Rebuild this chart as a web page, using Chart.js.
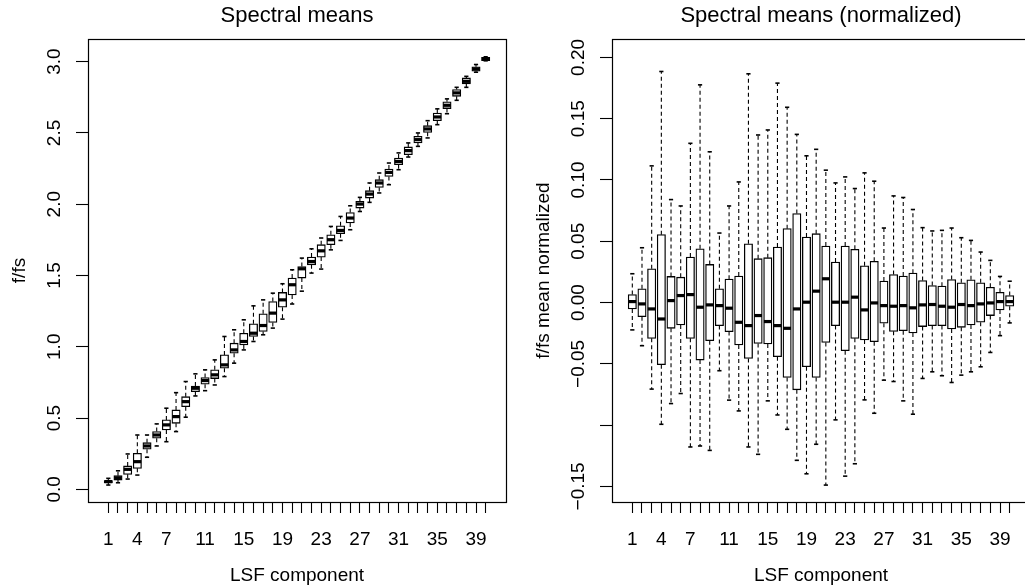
<!DOCTYPE html>
<html>
<head>
<meta charset="utf-8">
<title>Spectral means</title>
<script src="https://cdn.jsdelivr.net/npm/chart.js@4.4.1/dist/chart.umd.min.js"></script>
<style>
  html, body { margin: 0; padding: 0; background: #fff; overflow: hidden; }
  #wrap { position: relative; width: 1025px; height: 588px; overflow: hidden; background: #fff; }
  canvas { position: absolute; top: 0; }
  #means { left: 0; }
  #norm { left: 512px; }
</style>
</head>
<body>
<div id="wrap">
  <canvas id="means" width="594" height="588"></canvas>
  <canvas id="norm" width="618" height="588"></canvas>
</div>
<script>
// LSF component indices and which of them carry a printed label
const components = [1, 2, 3, 4, 5, 6, 7, 8, 9, 10, 11, 12, 13, 14, 15, 16, 17, 18, 19, 20,
                    21, 22, 23, 24, 25, 26, 27, 28, 29, 30, 31, 32, 33, 34, 35, 36, 37, 38, 39, 40];
const labelledComponents = [1, 4, 7, 11, 15, 19, 23, 27, 31, 35, 39];

// Spectral means (f/fs): five-number summaries per component
const meanLo  = [0.030, 0.046, 0.072, 0.100, 0.225, 0.304, 0.334, 0.405, 0.506, 0.655,
                 0.692, 0.732, 0.791, 0.885, 0.978, 1.037, 1.084, 1.131, 1.194, 1.300,
                 1.390, 1.517, 1.545, 1.680, 1.746, 1.821, 1.949, 2.013, 2.079, 2.137,
                 2.242, 2.331, 2.406, 2.465, 2.558, 2.635, 2.729, 2.820, 2.926, 3.006];
const meanQ1  = [0.045, 0.065, 0.105, 0.147, 0.281, 0.358, 0.416, 0.463, 0.580, 0.685,
                 0.737, 0.777, 0.850, 0.955, 1.013, 1.072, 1.107, 1.170, 1.278, 1.364,
                 1.482, 1.575, 1.629, 1.716, 1.793, 1.868, 1.973, 2.043, 2.118, 2.195,
                 2.277, 2.348, 2.430, 2.504, 2.586, 2.671, 2.757, 2.844, 2.933, 3.007];
const meanMed = [0.054, 0.081, 0.140, 0.194, 0.304, 0.381, 0.452, 0.510, 0.615, 0.709,
                 0.763, 0.803, 0.873, 0.978, 1.037, 1.095, 1.149, 1.236, 1.329, 1.435,
                 1.547, 1.598, 1.673, 1.751, 1.816, 1.903, 2.001, 2.071, 2.149, 2.223,
                 2.300, 2.376, 2.453, 2.528, 2.612, 2.694, 2.781, 2.862, 2.949, 3.020];
const meanQ3  = [0.062, 0.096, 0.164, 0.253, 0.327, 0.405, 0.487, 0.557, 0.650, 0.725,
                 0.784, 0.838, 0.943, 1.025, 1.095, 1.161, 1.231, 1.317, 1.381, 1.482,
                 1.563, 1.629, 1.716, 1.786, 1.849, 1.942, 2.020, 2.095, 2.172, 2.247,
                 2.324, 2.402, 2.476, 2.551, 2.640, 2.718, 2.804, 2.886, 2.964, 3.031];
const meanHi  = [0.077, 0.130, 0.248, 0.381, 0.381, 0.459, 0.569, 0.678, 0.756, 0.810,
                 0.838, 0.908, 1.072, 1.119, 1.189, 1.287, 1.329, 1.376, 1.442, 1.540,
                 1.622, 1.687, 1.763, 1.844, 1.914, 1.989, 2.048, 2.149, 2.219, 2.289,
                 2.360, 2.430, 2.500, 2.586, 2.669, 2.739, 2.820, 2.897, 2.980, 3.034];

// Spectral means normalized by their mean
const normLo  = [-0.0223, -0.0352, -0.0706, -0.0993, -0.0824, -0.0742, -0.1178, -0.1170, -0.1206, -0.0556,
                 -0.0796, -0.0884, -0.1178, -0.1238, -0.0802, -0.0917, -0.1034, -0.1287, -0.1397, -0.1156,
                 -0.1489, -0.0957, -0.1416, -0.1315, -0.0794, -0.0903, -0.0633, -0.0644, -0.0802, -0.0911,
                 -0.0619, -0.0565, -0.0597, -0.0652, -0.0592, -0.0565, -0.0524, -0.0407, -0.0270, -0.0166];
const normQ1  = [-0.0052, -0.0115, -0.0292, -0.0507, -0.0210, -0.0183, -0.0292, -0.0469, -0.0311, -0.0188,
                 -0.0237, -0.0346, -0.0456, -0.0333, -0.0338, -0.0442, -0.0611, -0.0712, -0.0524, -0.0611,
                 -0.0325, -0.0188, -0.0393, -0.0292, -0.0305, -0.0319, -0.0169, -0.0235, -0.0229, -0.0248,
                 -0.0196, -0.0188, -0.0188, -0.0215, -0.0202, -0.0183, -0.0161, -0.0106, -0.0060, -0.0030];
const normMed = [0.0008, -0.0011, -0.0052, -0.0134, 0.0016, 0.0057, 0.0065, -0.0038, -0.0019, -0.0025,
                 -0.0046, -0.0161, -0.0188, -0.0106, -0.0155, -0.0188, -0.0210, -0.0052, 0.0003, 0.0093,
                 0.0194, 0.0003, 0.0003, 0.0044, -0.0060, -0.0003, -0.0025, -0.0030, -0.0025, -0.0043,
                 -0.0019, -0.0016, -0.0030, -0.0038, -0.0016, -0.0025, -0.0011, -0.0003, 0.0008, 0.0008];
const normQ3  = [0.0065, 0.0112, 0.0276, 0.0554, 0.0213, 0.0207, 0.0371, 0.0439, 0.0311, 0.0112,
                 0.0191, 0.0216, 0.0480, 0.0358, 0.0366, 0.0453, 0.0603, 0.0726, 0.0534, 0.0562,
                 0.0461, 0.0330, 0.0461, 0.0434, 0.0300, 0.0336, 0.0175, 0.0229, 0.0216, 0.0240,
                 0.0180, 0.0139, 0.0134, 0.0188, 0.0161, 0.0186, 0.0161, 0.0125, 0.0084, 0.0057];
const normHi  = [0.0235, 0.0447, 0.1115, 0.1885, 0.0840, 0.0788, 0.1299, 0.1776, 0.1230, 0.0567,
                 0.0788, 0.0984, 0.1866, 0.1367, 0.1408, 0.1790, 0.1593, 0.1372, 0.1197, 0.1250,
                 0.1080, 0.0976, 0.1025, 0.0930, 0.1058, 0.0990, 0.0608, 0.0870, 0.0857, 0.0759,
                 0.0611, 0.0584, 0.0589, 0.0608, 0.0529, 0.0507, 0.0412, 0.0344, 0.0213, 0.0174];

// Axis ticks and their printed labels
const meanTicks = [0, 0.5, 1.0, 1.5, 2.0, 2.5, 3.0];
const meanTickLabels = ['0.0', '0.5', '1.0', '1.5', '2.0', '2.5', '3.0'];
const normTicks = [-0.15, -0.10, -0.05, 0, 0.05, 0.10, 0.15, 0.20];
const normTickLabels = ['\u22120.15', '', '\u22120.05', '0.00', '0.05', '0.10', '0.15', '0.20'];

// Axis extents (data range padded by 4% on each side)
const xRange = [-1.1, 42.1];
const meanRange = [-0.089, 3.159];
const normRange = [-0.1627, 0.215];

Chart.defaults.font.family = '"Liberation Sans", Arial, Helvetica, sans-serif';
Chart.defaults.color = '#000';

const AXIS_FONT = 19;
const TITLE_FONT = 22;
const BOX_WIDTH = 7.74;   // px, 0.8 of the component spacing

function boxplotDatasets(lo, q1, med, q3, hi) {
  const boxes = [], medians = [], caps = [], whiskers = [];
  components.forEach((c, i) => {
    boxes.push({ x: c, y: [q1[i], q3[i]] });
    medians.push({ x: c, y: med[i] });
    caps.push({ x: c, y: hi[i] }, { x: c, y: lo[i] });
    whiskers.push({ x: c, y: q3[i] }, { x: c, y: hi[i] }, { x: c, y: null },
                  { x: c, y: q1[i] }, { x: c, y: lo[i] }, { x: c, y: null });
  });
  return [
    { type: 'line', data: whiskers, order: 3, borderColor: '#000', borderWidth: 1.1,
      borderDash: [4, 3], pointRadius: 0, spanGaps: false, fill: false, tension: 0 },
    { type: 'scatter', data: caps, order: 2, pointStyle: 'line', pointRadius: 2.1,
      pointBorderWidth: 1.6, pointBorderColor: '#000', pointBackgroundColor: '#000' },
    { type: 'bar', data: boxes, order: 1, backgroundColor: '#fff', borderColor: '#000',
      borderWidth: 1.3, borderSkipped: false, barThickness: BOX_WIDTH + 0.6, grouped: false },
    { type: 'scatter', data: medians, order: 0, pointStyle: 'line', pointRadius: BOX_WIDTH / 2,
      pointBorderWidth: 3.2, pointBorderColor: '#000', pointBackgroundColor: '#000' }
  ];
}

// Frame around the plotting region
const framePlugin = {
  id: 'frame',
  afterDraw(chart) {
    const { ctx, chartArea: a } = chart;
    ctx.save();
    ctx.strokeStyle = '#000';
    ctx.lineWidth = 1.2;
    ctx.strokeRect(Math.round(a.left) + 0.5, Math.round(a.top) + 0.5,
                   Math.round(a.right - a.left), Math.round(a.bottom - a.top));
    ctx.restore();
  }
};

function makePanel(id, opts) {
  return new Chart(document.getElementById(id), {
    type: 'scatter',
    data: { datasets: boxplotDatasets(opts.lo, opts.q1, opts.med, opts.q3, opts.hi) },
    plugins: [framePlugin],
    options: {
      responsive: false,
      animation: false,
      devicePixelRatio: 1,
      events: [],
      layout: { padding: 0 },
      plugins: {
        legend: { display: false },
        tooltip: { enabled: false },
        title: { display: true, text: opts.title, color: '#000',
                 font: { size: TITLE_FONT, weight: 'normal' }, padding: { top: 2.5, bottom: 10.1 } }
      },
      scales: {
        x: {
          type: 'linear', position: 'bottom', min: xRange[0], max: xRange[1], offset: false,
          afterBuildTicks: s => { s.ticks = components.map(v => ({ value: v })); },
          afterFit: s => { s.height = 86; },
          ticks: { autoSkip: false, minRotation: 0, maxRotation: 0, padding: 14.9,
                   color: '#000', font: { size: AXIS_FONT },
                   callback: v => labelledComponents.includes(v) ? String(v) : '' },
          grid: { display: true, drawOnChartArea: false, drawTicks: true, tickLength: 11,
                  color: '#000', tickColor: '#000', tickWidth: 1.1, offset: false },
          border: { display: false },
          title: { display: true, text: 'LSF component', color: '#000',
                   font: { size: AXIS_FONT }, padding: { top: 0, bottom: 1.3 } }
        },
        y: {
          type: 'linear', position: 'left', min: opts.range[0], max: opts.range[1],
          afterBuildTicks: s => { s.ticks = opts.ticks.map(v => ({ value: v })); },
          afterFit: s => { s.width = opts.axisWidth; },
          ticks: { autoSkip: false, minRotation: 90, maxRotation: 90, crossAlign: 'center',
                   padding: opts.tickPad, color: '#000', font: { size: AXIS_FONT },
                   callback: (v, i) => opts.tickLabels[i] },
          grid: { display: true, drawOnChartArea: false, drawTicks: true, tickLength: 12,
                  color: '#000', tickColor: '#000', tickWidth: 1.1 },
          border: { display: false },
          title: { display: true, text: opts.yTitle, color: '#000',
                   font: { size: AXIS_FONT }, padding: { top: opts.titlePad, bottom: 0 } }
        },
        // empty right-hand margin, same width as the left one, so the title centres on the plot
        margin: {
          type: 'linear', position: 'right', display: true,
          afterFit: s => { s.width = opts.axisWidth; },
          ticks: { display: false },
          grid: { display: false, drawTicks: false },
          border: { display: false },
          title: { display: false }
        }
      }
    }
  });
}

makePanel('means', {
  title: 'Spectral means', yTitle: 'f/fs',
  lo: meanLo, q1: meanQ1, med: meanMed, q3: meanQ3, hi: meanHi,
  range: meanRange, ticks: meanTicks, tickLabels: meanTickLabels,
  axisWidth: 88, tickPad: 7.8, titlePad: 8.6
});

makePanel('norm', {
  title: 'Spectral means (normalized)', yTitle: 'f/fs mean normalized',
  lo: normLo, q1: normQ1, med: normMed, q3: normQ3, hi: normHi,
  range: normRange, ticks: normTicks, tickLabels: normTickLabels,
  axisWidth: 100, tickPad: -3, titlePad: 20.6
});
</script>
</body>
</html>
